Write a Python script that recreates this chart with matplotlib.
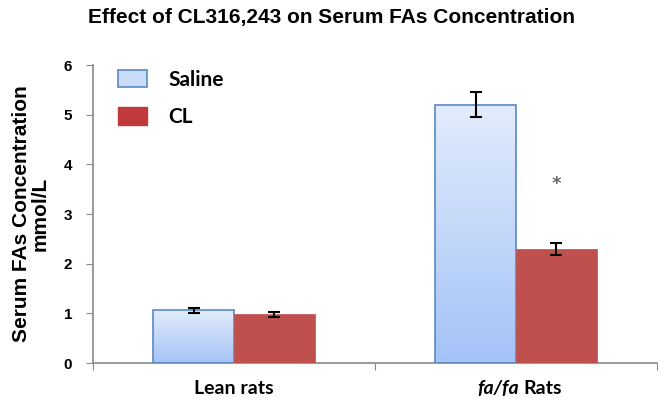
import matplotlib
matplotlib.use("Agg")
import matplotlib.pyplot as plt
import numpy as np
from matplotlib.patches import Patch
from matplotlib.colors import LinearSegmentedColormap

categories = ["Lean rats", "fa/fa Rats"]
saline = [1.06, 5.20]
saline_err = [0.05, 0.25]
cl = [0.98, 2.30]
cl_err = [0.05, 0.12]
yticks = [0, 1, 2, 3, 4, 5, 6]

fig = plt.figure(figsize=(6.64, 4.07), dpi=100)
ax = fig.add_axes([0.140, 0.108, 0.8495, 0.732])

centers = np.array([0.5, 1.5])
w = 0.287
grad = np.linspace(0, 1, 256).reshape(-1, 1)
cmap = LinearSegmentedColormap.from_list("g", ["#a4c3f7", "#e2ecfc"])

for i, c in enumerate(centers):
    x0 = c - w
    bar = ax.bar(x0, saline[i], width=w, align="edge", facecolor="none",
                 edgecolor="#5b88c4", linewidth=1.2, zorder=3)
    im = ax.imshow(grad, extent=[x0, x0 + w, 0, saline[i]], origin="lower",
                   aspect="auto", cmap=cmap, zorder=2)
    im.set_clip_path(bar.patches[0])
    ax.bar(c, cl[i], width=w, align="edge", color="#c0504d", edgecolor="#c0504d",
           linewidth=0.5, zorder=3)
    ax.errorbar(x0 + w / 2, saline[i], yerr=saline_err[i], fmt="none", ecolor="black",
                elinewidth=1.5, capsize=4, capthick=1.5, zorder=4)
    ax.errorbar(c + w / 2, cl[i], yerr=cl_err[i], fmt="none", ecolor="black",
                elinewidth=1.5, capsize=4, capthick=1.5, zorder=4)

ax.text(centers[1] + w / 2, 3.6, "*", ha="center", va="center", fontsize=13,
        fontweight="bold", color="#6a6460", zorder=5)

ax.set_xlim(0, 2)
ax.set_ylim(0, 6)
ax.set_yticks(yticks)
ax.set_yticklabels([str(t) for t in yticks], fontsize=11, fontweight="bold",
                   family="Liberation Sans")
ax.set_xticks([0, 1, 2])
ax.set_xticklabels([])

# category labels
ax.annotate(categories[0], xy=(centers[0], 0), xycoords=("data", "axes fraction"),
            xytext=(0, -12), textcoords="offset points", ha="center", va="top",
            fontsize=14, fontweight="bold", family="Lato")
part1, part2 = categories[1].split(" ")
ax.annotate(part1, xy=(centers[1], 0), xycoords=("data", "axes fraction"),
            xytext=(2, -12), textcoords="offset points", ha="right", va="top",
            fontsize=14, fontweight="bold", fontstyle="italic", family="Lato")
ax.annotate(part2, xy=(centers[1], 0), xycoords=("data", "axes fraction"),
            xytext=(5, -12), textcoords="offset points", ha="left", va="top",
            fontsize=14, fontweight="bold", family="Lato")

ax.tick_params(axis="x", which="major", length=5, color="#888888", direction="out")
ax.tick_params(axis="y", length=5, color="#888888", direction="out", pad=10)
for s in ["top", "right"]:
    ax.spines[s].set_visible(False)
ax.spines["left"].set_color("#888888")
ax.spines["bottom"].set_color("#888888")
ax.spines["left"].set_linewidth(1.2)
ax.spines["bottom"].set_linewidth(1.2)

ax.set_ylabel("Serum FAs Concentration\nmmol/L", fontsize=15, fontweight="bold",
              family="Liberation Sans", labelpad=10, linespacing=0.95)
fig.suptitle("Effect of CL316,243 on Serum FAs Concentration", fontsize=15,
             fontweight="bold", family="Liberation Sans", y=0.98)

handles = [Patch(facecolor="#c9dcfa", edgecolor="#5b88c4", linewidth=1.2, label="Saline"),
           Patch(facecolor="#c0393b", edgecolor="#c0393b", label="CL")]
leg = ax.legend(handles=handles, loc="upper left", bbox_to_anchor=(0.012, 1.048),
                frameon=False, prop={"family": "Lato", "weight": "bold", "size": 15},
                handlelength=1.35, handleheight=0.9, labelspacing=0.85, handletextpad=1.05)

fig.savefig("out.png", dpi=100)
